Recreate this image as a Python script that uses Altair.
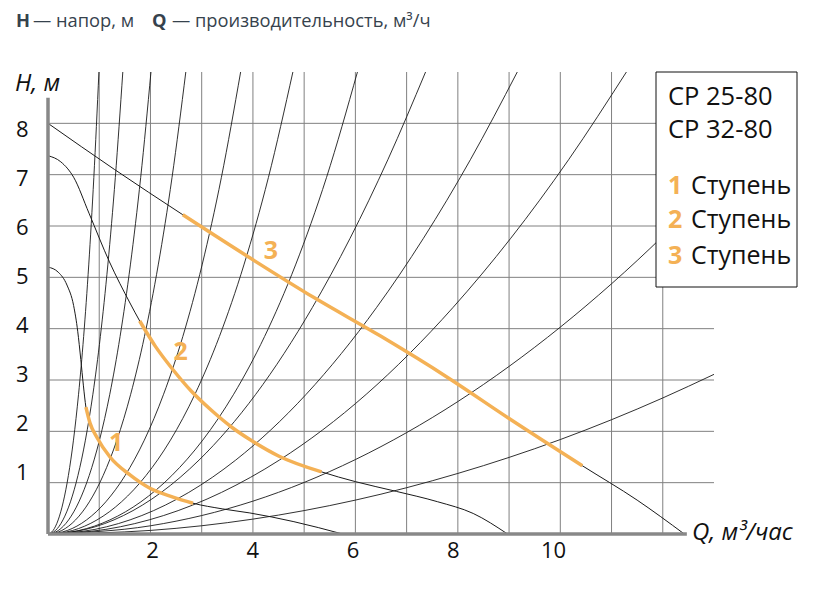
import altair as alt
import pandas as pd

# ---------------- data ----------------
# system curves (H vs Q), steep family (shared H stations)
SYS_H_A = [0, 0.068, 0.274, 0.626, 1.138, 1.828, 2.722, 3.848, 5.242, 6.944, 9.0]
SYS_Q_1 = [0, 0.0994, 0.1988, 0.2982, 0.3976, 0.497, 0.5964, 0.6958, 0.7952, 0.8946, 0.994]
SYS_Q_2 = [0, 0.146, 0.292, 0.438, 0.584, 0.73, 0.876, 1.022, 1.168, 1.314, 1.46]
SYS_Q_3 = [0, 0.201, 0.402, 0.603, 0.804, 1.005, 1.206, 1.407, 1.608, 1.809, 2.01]
SYS_Q_4 = [0, 0.269, 0.538, 0.807, 1.076, 1.345, 1.614, 1.883, 2.152, 2.421, 2.69]
SYS_Q_5 = [0, 0.376, 0.752, 1.128, 1.504, 1.88, 2.256, 2.632, 3.008, 3.384, 3.76]
SYS_Q_6 = [0, 0.478, 0.956, 1.434, 1.912, 2.39, 2.868, 3.346, 3.824, 4.302, 4.78]
SYS_Q_7 = [0, 0.604, 1.208, 1.812, 2.416, 3.02, 3.624, 4.228, 4.832, 5.436, 6.04]
# flatter family
SYS_H_B = [0, 0.09, 0.36, 1.44, 2.72, 4.41, 5.76, 7.29, 9.0]
SYS_Q_8 = [0, 0.737, 1.474, 2.948, 4.054, 5.159, 5.896, 6.633, 7.37]
SYS_Q_9 = [0, 0.916, 1.832, 3.664, 5.038, 6.412, 7.328, 8.244, 9.16]
SYS_Q_10 = [0, 1.129, 2.258, 4.516, 6.21, 7.903, 9.032, 10.161, 11.29]
SYS_Q_C = [0, 2, 4, 6, 8, 10, 12, 13]
SYS_H_11 = [0, 0.16, 0.64, 1.45, 2.58, 4.03, 5.8, 6.81]
SYS_H_12 = [0, 0.07, 0.29, 0.66, 1.18, 1.84, 2.65, 3.11]

# pump curves (speed 1, 2, 3)
P1_Q = [0, 0.2, 0.37, 0.5, 0.58, 0.64, 0.69, 0.74, 0.82, 0.95, 1.21, 1.6, 1.99, 2.44, 2.83, 3.4, 3.94, 4.8, 5.75]
P1_H = [5.2, 5.1, 4.85, 4.45, 3.95, 3.4, 2.9, 2.47, 2.16, 1.89, 1.5, 1.15, 0.89, 0.72, 0.6, 0.49, 0.41, 0.24, 0.0]
P2_Q = [0, 0.25, 0.5, 0.8, 1.2, 1.6, 1.79, 2.1, 2.44, 2.8, 3.2, 3.6, 3.94, 4.5, 5.34, 6.0, 6.8, 7.6, 8.3, 8.97]
P2_H = [7.37, 7.25, 6.95, 6.25, 5.3, 4.5, 4.15, 3.65, 3.2, 2.78, 2.4, 2.07, 1.84, 1.52, 1.21, 1.02, 0.83, 0.63, 0.4, 0.0]
P3_Q = [0, 1.3, 2.63, 3.94, 5.2, 6.5, 7.8, 9.0, 10.43, 11.5, 12.42]
P3_H = [8.0, 7.1, 6.22, 5.38, 4.6, 3.85, 3.05, 2.25, 1.33, 0.66, 0.0]
# working ranges (orange)
P1_RANGE = (0.74, 2.83)
P2_RANGE = (1.79, 5.34)
P3_RANGE = (2.63, 10.43)

STEP_LABELS = ["1", "2", "3"]
STEP_LABEL_Q = [1.33, 2.59, 4.35]
STEP_LABEL_H = [1.77, 3.55, 5.52]

X_TICKS = [2, 4, 6, 8, 10]
Y_TICKS = [1, 2, 3, 4, 5, 6, 7, 8]
GRID_Q = [1, 2, 3, 4, 5, 6, 7, 8, 9, 10, 11, 12]
GRID_H = [1, 2, 3, 4, 5, 6, 7, 8]

LEGEND_MODELS = ["CP 25-80", "CP 32-80"]
LEGEND_STEPS = ["1", "2", "3"]

ORANGE = "#F4B155"
GRID = "#808080"
FONT = "Open Sans"

W, H = 666, 462
XS = alt.Scale(domain=[0, 13], nice=False, zero=False)
YS = alt.Scale(domain=[0, 9], nice=False, zero=False)


def long(curves):
    rows = []
    for name, qs, hs in curves:
        for i, (q, h) in enumerate(zip(qs, hs)):
            rows.append({"curve": name, "i": i, "Q": q, "H": h})
    return pd.DataFrame(rows)


sys_df = long([
    ("s1", SYS_Q_1, SYS_H_A), ("s2", SYS_Q_2, SYS_H_A), ("s3", SYS_Q_3, SYS_H_A),
    ("s4", SYS_Q_4, SYS_H_A), ("s5", SYS_Q_5, SYS_H_A), ("s6", SYS_Q_6, SYS_H_A),
    ("s7", SYS_Q_7, SYS_H_A), ("s8", SYS_Q_8, SYS_H_B), ("s9", SYS_Q_9, SYS_H_B),
    ("s10", SYS_Q_10, SYS_H_B), ("s11", SYS_Q_C, SYS_H_11), ("s12", SYS_Q_C, SYS_H_12),
])
pump_df = long([("p1", P1_Q, P1_H), ("p2", P2_Q, P2_H), ("p3", P3_Q, P3_H)])


def in_range(qs, hs, rng):
    pts = [(q, h) for q, h in zip(qs, hs) if rng[0] - 1e-9 <= q <= rng[1] + 1e-9]
    return [p[0] for p in pts], [p[1] for p in pts]


o1 = in_range(P1_Q, P1_H, P1_RANGE)
o2 = in_range(P2_Q, P2_H, P2_RANGE)
o3 = in_range(P3_Q, P3_H, P3_RANGE)
orange_df = long([("o1", *o1), ("o2", *o2), ("o3", *o3)])

vgrid_df = pd.DataFrame({"Q": GRID_Q, "H0": 0, "H1": 9})
hgrid_df = pd.DataFrame({"H": GRID_H, "Q0": 0, "Q1": 13})
xaxis_df = pd.DataFrame({"Q0": [0], "Q1": [12.47], "H": [0]})
yaxis_df = pd.DataFrame({"Q": [0], "H0": [0], "H1": [8.5]})
lab_df = pd.DataFrame({"t": STEP_LABELS, "Q": STEP_LABEL_Q, "H": STEP_LABEL_H})
one = pd.DataFrame({"a": [0]})

vgrid = alt.Chart(vgrid_df).mark_rule(color=GRID, strokeWidth=1).encode(
    x=alt.X("Q:Q", scale=XS, axis=None), y=alt.Y("H0:Q", scale=YS, axis=None), y2="H1:Q")
hgrid = alt.Chart(hgrid_df).mark_rule(color=GRID, strokeWidth=1).encode(
    y=alt.Y("H:Q", scale=YS, axis=None), x=alt.X("Q0:Q", scale=XS, axis=None), x2="Q1:Q")

sys_lines = alt.Chart(sys_df).mark_line(color="#1a1a1a", strokeWidth=0.9, interpolate="monotone").encode(
    x=alt.X("Q:Q", scale=XS, axis=None), y=alt.Y("H:Q", scale=YS, axis=None),
    detail="curve:N", order="i:Q")
pump_lines = alt.Chart(pump_df).mark_line(color="#1a1a1a", strokeWidth=1.0, interpolate="monotone").encode(
    x=alt.X("Q:Q", scale=XS, axis=None), y=alt.Y("H:Q", scale=YS, axis=None),
    detail="curve:N", order="i:Q")
orange_lines = alt.Chart(orange_df).mark_line(color=ORANGE, strokeWidth=3.5, interpolate="monotone").encode(
    x=alt.X("Q:Q", scale=XS, axis=None), y=alt.Y("H:Q", scale=YS, axis=None),
    detail="curve:N", order="i:Q")

xaxis_line = alt.Chart(xaxis_df).mark_rule(color="#888888", strokeWidth=3.5).encode(
    x=alt.X("Q0:Q", scale=XS, axis=None), x2="Q1:Q", y=alt.Y("H:Q", scale=YS, axis=None))
yaxis_line = alt.Chart(yaxis_df).mark_rule(color="#888888", strokeWidth=3.5).encode(
    x=alt.X("Q:Q", scale=XS, axis=None), y=alt.Y("H0:Q", scale=YS, axis=None), y2="H1:Q")

step_labels = alt.Chart(lab_df).mark_text(color=ORANGE, font=FONT, fontSize=25, fontWeight="bold").encode(
    x=alt.X("Q:Q", scale=XS, axis=None), y=alt.Y("H:Q", scale=YS, axis=None), text="t:N")


def txt(s, x, y, size=22, color="#111111", weight="normal", style="normal", align="left", baseline="middle"):
    return alt.Chart(one).mark_text(
        text=s, font=FONT, fontSize=size, color=color, fontWeight=weight, fontStyle=style,
        align=align, baseline=baseline
    ).encode(x=alt.value(x), y=alt.value(y))


# page px -> plot coordinates: x - 48, y - 72
TC = "#36424d"
TY = 27 - 72
TS = 18.3
title_parts = [
    txt("H", 16 - 48, TY, TS, TC, "bold", baseline="alphabetic"),
    txt("— напор, м", 33 - 48, TY, TS, TC, baseline="alphabetic"),
    txt("Q", 152 - 48, TY, TS, TC, "bold", baseline="alphabetic"),
    txt("— производительность, м³/ч", 172 - 48, TY, TS, TC, baseline="alphabetic"),
]
axis_titles = [
    txt("H, м", 15 - 48, 84 - 72, 24, "#111111", style="italic"),
    txt("Q, м³/час", 692 - 48, 533 - 72, 24, "#111111", style="italic"),
]

legend_box = alt.Chart(one).mark_rect(fill="white", stroke="#111111", strokeWidth=1).encode(
    x=alt.value(656 - 48), x2=alt.value(797 - 48), y=alt.value(72 - 72), y2=alt.value(287 - 72))
legend_texts = [
    txt(LEGEND_MODELS[0], 668 - 48, 97 - 72, 25.5),
    txt(LEGEND_MODELS[1], 668 - 48, 130 - 72, 25.5),
]
for s, yy in zip(LEGEND_STEPS, [186, 220, 256]):
    legend_texts.append(txt(s, 668 - 48, yy - 72, 25, ORANGE, "bold"))
    legend_texts.append(txt("Ступень", 691 - 48, yy - 72, 25))

main = alt.layer(
    vgrid, hgrid, sys_lines, pump_lines, orange_lines, xaxis_line, yaxis_line,
    step_labels, *axis_titles, legend_box, *legend_texts, *title_parts
)

# tick-label layer (the printed labels sit on a slightly different spacing than the grid)
tick_df = pd.DataFrame({"Q": [2], "H": [1]})
ticks = alt.Chart(tick_df).mark_point(opacity=0).encode(
    x=alt.X("Q:Q", scale=alt.Scale(domain=[-0.075, 13.212], nice=False, zero=False),
            axis=alt.Axis(orient="bottom", values=X_TICKS, domain=False, ticks=False, grid=False,
                          labelFont=FONT, labelFontSize=22, labelColor="#111111", labelPadding=6, title=None)),
    y=alt.Y("H:Q", scale=alt.Scale(domain=[-0.245, 9.18], nice=False, zero=False),
            axis=alt.Axis(orient="left", values=Y_TICKS, domain=False, ticks=False, grid=False,
                          labelFont=FONT, labelFontSize=22, labelColor="#111111", labelPadding=20, title=None)),
)

chart = alt.layer(main, ticks).resolve_scale(x="independent", y="independent").properties(
    width=W, height=H,
    autosize=alt.AutoSizeParams(type="none"),
    padding={"left": 40, "top": 64, "right": 90, "bottom": 45},
    background="white",
).configure_view(stroke=None)

chart.save("out.html", embed_options={"renderer": "svg", "actions": False})
